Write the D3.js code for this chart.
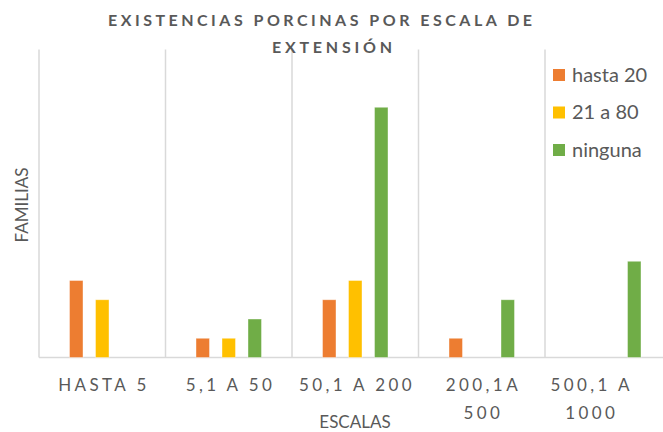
<!DOCTYPE html>
<html>
<head>
<meta charset="utf-8">
<script src="https://cdn.jsdelivr.net/npm/d3@7"></script>
<style>
body{margin:0;background:#fff;}
text{font-family:Lato,"Open Sans",sans-serif;fill:#595959;}
</style>
</head>
<body>
<svg id="chart" width="663" height="432"></svg>
<script>
// datos
var escalas=[["HASTA 5"],["5,1 A 50"],["50,1 A 200"],["200,1A","500"],["500,1 A","1000"]];
var series=["hasta 20","21 a 80","ninguna"];
var hasta20=[4,1,3,1,0];
var de21a80=[3,1,4,0,0];
var ninguna=[0,2,13,3,5];
var colores=["#ED7D31","#FFC000","#70AD47"];

var W=663,H=432;
var mLeft=39,mRight=671.5,mTop=49.5,mBottom=357.5;
var svg=d3.select("#chart");

var valores=[hasta20,de21a80,ninguna];
var x=d3.scaleBand().domain(d3.range(escalas.length)).range([mLeft,mRight]);
var y=d3.scaleLinear().domain([0,16]).range([mBottom,mTop]);

// lineas verticales entre categorias
var bordes=d3.range(escalas.length+1).map(function(i){return i<escalas.length?x(i):mRight;});
svg.selectAll("line.grid").data(bordes).enter().append("line")
    .attr("x1",d=>d).attr("x2",d=>d).attr("y1",mTop).attr("y2",mBottom)
    .attr("stroke","#D9D9D9").attr("stroke-width",1.5);
svg.append("line").attr("x1",mLeft).attr("x2",mRight).attr("y1",mBottom).attr("y2",mBottom)
    .attr("stroke","#D9D9D9").attr("stroke-width",1.5);

// barras
var paso=26,ancho=13.5;
var x1=d3.scaleBand().domain(d3.range(series.length)).range([-paso*1.5,paso*1.5]);
series.forEach(function(s,si){
    svg.selectAll("rect.s"+si).data(valores[si]).enter().append("rect")
        .attr("x",(d,i)=>x(i)+x.bandwidth()/2+x1(si)+(paso-ancho)/2)
        .attr("width",ancho)
        .attr("y",d=>y(d))
        .attr("height",d=>mBottom-y(d))
        .attr("fill",colores[si])
        .attr("stroke",d=>d>0?"#fff":"none").attr("stroke-opacity",0.5).attr("stroke-width",0.8);
});

// etiquetas del eje x
escalas.forEach(function(lineas,i){
    var cx=Math.min(x(i)+x.bandwidth()/2,590);
    var t=svg.append("text").attr("text-anchor","middle")
        .style("font-size","17px").style("letter-spacing","3.4px");
    lineas.forEach(function(l,j){
        t.append("tspan").attr("x",cx+1.7).attr("y",391+j*28).text(l);
    });
});

// titulo
svg.append("text").attr("x",108).attr("y",26).attr("textLength",424).attr("lengthAdjust","spacing")
    .style("font-size","16px").style("font-weight","bold").text("EXISTENCIAS PORCINAS POR ESCALA DE");
svg.append("text").attr("x",272).attr("y",53).attr("textLength",120).attr("lengthAdjust","spacing")
    .style("font-size","16px").style("font-weight","bold").text("EXTENSIÓN");

// titulos de ejes
svg.append("text").attr("x",355).attr("y",428).attr("text-anchor","middle")
    .style("font-size","17px").text("ESCALAS");
svg.append("text").attr("transform","translate(28,205) rotate(-90)").attr("text-anchor","middle")
    .style("font-size","17px").text("FAMILIAS");

// leyenda
var ley=svg.append("g").attr("transform","translate(553,69)");
series.forEach(function(s,i){
    var g=ley.append("g").attr("transform","translate(0,"+(i*37.5)+")");
    g.append("rect").attr("width",12).attr("height",12).attr("fill",colores[i]);
    g.append("text").attr("x",19).attr("y",12.5).style("font-size","20px").text(s);
});
</script>
</body>
</html>
